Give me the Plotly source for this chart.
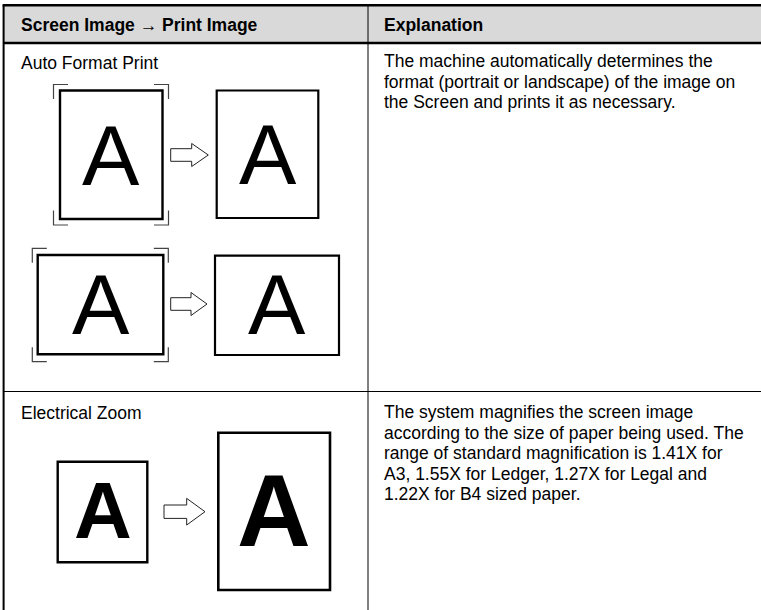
import plotly.graph_objects as go

# ---------------- content ----------------
HEADERS = ["Screen Image \u2192 Print Image", "Explanation"]
ROW_TITLES = ["Auto Format Print", "Electrical Zoom"]
EXPLANATIONS = [
    ["The machine automatically determines the",
     "format (portrait or landscape) of the image on",
     "the Screen and prints it as necessary."],
    ["The system magnifies the screen image",
     "according to the size of paper being used. The",
     "range of standard magnification is 1.41X for",
     "A3, 1.55X for Ledger, 1.27X for Legal and",
     "1.22X for B4 sized paper."],
]
LETTER = "A"

# ---------------- layout geometry (pixel space) ----------------
W, H = 761, 610
TABLE_L, TABLE_R, TABLE_T, TABLE_B = 3.6, 775, 5.3, 625
HEAD_B = 43
ROW_SEP = 391.5
COL_X = 368
TEXT_L = 19
TEXT_R = 382
ROW_TEXT_Y = [62.5, 412.5]
EXPL_Y0 = [61.0, 412.0]
LINE_STEP = 20.5
FS = 17.5
FONT = "Liberation Sans, Arial, Helvetica, sans-serif"
FONT_NARROW = "Liberation Sans Narrow, Liberation Sans, Arial, sans-serif"

shapes = []
annotations = []


def rect(x0, y0, x1, y1, w=2.0, color="#000", fill=None):
    d = dict(type="rect", xref="x", yref="y", x0=x0, y0=y0, x1=x1, y1=y1,
             line=dict(color=color, width=w), layer="above")
    if fill:
        d["fillcolor"] = fill
    shapes.append(d)


def line(x0, y0, x1, y1, w=1.0, color="#000"):
    shapes.append(dict(type="line", xref="x", yref="y", x0=x0, y0=y0, x1=x1, y1=y1,
                       line=dict(color=color, width=w), layer="above"))


def path(p, w=1.0, color="#000", fill=None):
    d = dict(type="path", xref="x", yref="y", path=p,
             line=dict(color=color, width=w), layer="above")
    if fill:
        d["fillcolor"] = fill
    shapes.append(d)


def text(x, y, s, size=FS, bold=False, xanchor="left", family=FONT):
    annotations.append(dict(x=x, y=y, xref="x", yref="y", text=("<b>%s</b>" % s) if bold else s,
                            showarrow=False, xanchor=xanchor, yanchor="middle",
                            font=dict(family=family, size=size, color="#000")))


def brackets(x0, y0, x1, y1, arm=14.5, w=1.2, color="#444"):
    path(f"M {x0+arm},{y0} L {x0},{y0} L {x0},{y0+arm}", w, color)
    path(f"M {x1-arm},{y0} L {x1},{y0} L {x1},{y0+arm}", w, color)
    path(f"M {x0},{y1-arm} L {x0},{y1} L {x0+arm},{y1}", w, color)
    path(f"M {x1},{y1-arm} L {x1},{y1} L {x1-arm},{y1}", w, color)


def arrow(x0, x1, cy, hx, sh, hh):
    p = (f"M {x0},{cy-sh} L {hx},{cy-sh} L {hx},{cy-hh} L {x1},{cy} "
         f"L {hx},{cy+hh} L {hx},{cy+sh} L {x0},{cy+sh} Z")
    path(p, 1.0, "#222", "#fff")


# ---------------- table ----------------
rect(TABLE_L, TABLE_T, TABLE_R, HEAD_B, w=0, fill="#d9d9d9")
line(TABLE_L - 1, TABLE_T, TABLE_R, TABLE_T, w=2.5)
line(TABLE_L, HEAD_B, TABLE_R, HEAD_B, w=2.5)
line(TABLE_L, TABLE_T, TABLE_L, TABLE_B, w=2.0)
line(COL_X, TABLE_T, COL_X, TABLE_B, w=1.0)
line(TABLE_L, ROW_SEP, TABLE_R, ROW_SEP, w=1.0)

text(TEXT_L, 24.5, HEADERS[0], bold=True)
text(TEXT_R, 24.5, HEADERS[1], bold=True)

for i, t in enumerate(ROW_TITLES):
    text(TEXT_L, ROW_TEXT_Y[i], t)
for i, lines in enumerate(EXPLANATIONS):
    for k, s in enumerate(lines):
        text(TEXT_R, EXPL_Y0[i] + k * LINE_STEP, s)

# ---------------- diagrams: Auto Format Print ----------------
# portrait
brackets(53.5, 84.5, 168.5, 225.0)
rect(60.0, 90.5, 162.5, 219.0, w=2.4)
text(110.5, 154.5, LETTER, size=86, xanchor="center")
arrow(170.7, 208.3, 155.0, 191.7, 6.3, 11.5)
rect(216.7, 90.5, 318.3, 218.0, w=2.2)
text(268.0, 154.0, LETTER, size=86, xanchor="center")

# landscape
brackets(32.3, 248.3, 168.3, 361.7)
rect(37.7, 255.0, 163.3, 354.3, w=2.4)
text(100.5, 304.0, LETTER, size=86, xanchor="center")
arrow(170.7, 207.0, 304.0, 191.0, 6.3, 11.5)
rect(215.0, 255.7, 339.0, 355.0, w=2.2)
text(277.0, 304.0, LETTER, size=86, xanchor="center")

# ---------------- diagrams: Electrical Zoom ----------------
rect(57.7, 461.7, 147.3, 562.3, w=2.4)
text(103.0, 510.5, LETTER, size=80, bold=True, xanchor="center", family=FONT_NARROW)
arrow(164.0, 205.0, 511.7, 186.7, 6.7, 13.3)
rect(218.3, 432.7, 330.0, 590.0, w=2.6)
text(274.2, 510.5, LETTER, size=102, bold=True, xanchor="center", family=FONT_NARROW)

fig = go.Figure()
fig.update_layout(
    width=W, height=H,
    margin=dict(l=0, r=0, t=0, b=0),
    paper_bgcolor="#fff", plot_bgcolor="#fff",
    xaxis=dict(range=[0, W], visible=False, fixedrange=True),
    yaxis=dict(range=[H, 0], visible=False, fixedrange=True),
    shapes=shapes, annotations=annotations,
    showlegend=False,
)
fig.write_html(
    "out.html",
    config={"displayModeBar": False},
    post_script="document.body.style.margin='0';document.body.style.overflow='hidden';",
)
